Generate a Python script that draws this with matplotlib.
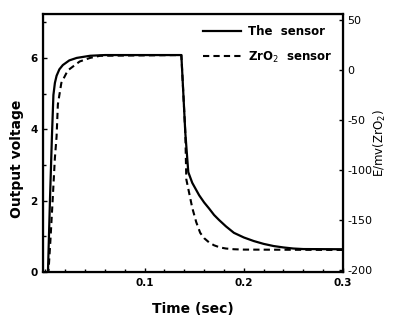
import matplotlib
matplotlib.use("Agg")
import matplotlib.pyplot as plt
from matplotlib.ticker import MultipleLocator

# time (sec) and output voltage
t_sensor = [0.0, 0.0025, 0.0045, 0.0065, 0.008, 0.0095, 0.0112, 0.014, 0.0175, 0.024,
            0.0315, 0.045, 0.06, 0.137, 0.139, 0.141, 0.144, 0.148, 0.155, 0.16,
            0.165, 0.17, 0.175, 0.182, 0.19, 0.2, 0.21, 0.22, 0.23, 0.24,
            0.25, 0.26, 0.3]
v_sensor = [0.0, 0.0, 2.0, 3.8, 4.96, 5.3, 5.5, 5.68, 5.8, 5.93,
            6.0, 6.06, 6.08, 6.08, 5.0, 3.9, 2.8, 2.5, 2.15, 1.95,
            1.78, 1.6, 1.46, 1.28, 1.1, 0.97, 0.87, 0.79, 0.73, 0.69,
            0.66, 0.645, 0.64]

t_zro2 = [0.0, 0.003, 0.005, 0.0072, 0.0095, 0.0112, 0.0125, 0.016, 0.0225, 0.0345,
          0.045, 0.055, 0.137, 0.139, 0.141, 0.142, 0.145, 0.148, 0.152, 0.156,
          0.16, 0.165, 0.17, 0.176, 0.182, 0.19, 0.2, 0.3]
v_zro2 = [0.0, 0.0, 0.9, 2.0, 3.2, 3.8, 4.7, 5.3, 5.65, 5.9,
          6.0, 6.06, 6.08, 5.0, 3.9, 2.6, 2.2, 1.8, 1.4, 1.1,
          0.95, 0.83, 0.75, 0.69, 0.66, 0.64, 0.63, 0.62]

x_ticks = [0.1, 0.2, 0.3]
left_ticks = [0, 2, 4, 6]
right_ticks = [50, 0, -50, -100, -150, -200]

fig = plt.figure(figsize=(4.0, 3.22), dpi=100)
ax = fig.add_axes([0.1075, 0.155, 0.75, 0.8015])

ax.plot(t_sensor, v_sensor, color="black", lw=1.6, label="The  sensor")
ax.plot(t_zro2, v_zro2, color="black", lw=1.5, ls=(0, (3, 2)), label="ZrO$_2$  sensor")

ax.set_xlim(-0.0025, 0.3)
ax.set_ylim(0, 7.23)
ax.set_xticks(x_ticks)
ax.set_xticklabels([str(x) for x in x_ticks], fontweight="bold", fontsize=7.5)
ax.set_yticks(left_ticks)
ax.set_yticklabels([str(y) for y in left_ticks], fontweight="bold", fontsize=7.5)
ax.xaxis.set_minor_locator(MultipleLocator(0.02))
ax.yaxis.set_minor_locator(MultipleLocator(1))
ax.tick_params(direction="in", length=3, width=1, pad=4)
ax.tick_params(which="minor", direction="in", length=2, width=1)
for s in ax.spines.values():
    s.set_linewidth(1.6)

ax.set_xlabel("Time (sec)", fontsize=10, fontweight="bold", labelpad=10)
ax.set_ylabel("Output voltage", fontsize=10, fontweight="bold")
ax.yaxis.set_label_coords(-0.062, 0.44)

ax2 = ax.twinx()
ax2.set_ylim(-202, 56)
ax2.set_yticks(right_ticks)
ax2.set_yticklabels([str(y) for y in right_ticks], fontsize=8)
ax2.tick_params(direction="in", length=3, width=1, pad=3)
ax2.set_ylabel("E/mv(ZrO$_2$)", fontsize=8.5, labelpad=0)

leg = ax.legend(loc="upper right", frameon=False,
                prop={"weight": "bold", "size": 8.5},
                handlelength=3.2, handletextpad=0.6, labelspacing=1.0,
                borderaxespad=0.5)

fig.savefig("out.png", dpi=100)
plt.close()
